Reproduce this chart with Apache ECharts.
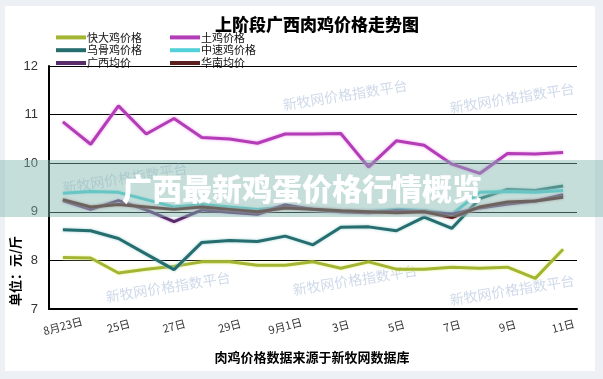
<!DOCTYPE html>
<html><head><meta charset="utf-8">
<script src="https://cdn.jsdelivr.net/npm/echarts@6/dist/echarts.min.js"></script>
<style>html,body{margin:0;padding:0;background:#edf1f6;}#c{width:603px;height:379px;}</style>
</head><body><div id="c"></div>
<script>
var categories = ['8月23日','24日','25日','26日','27日','28日','29日','30日','9月1日','2日','3日','4日','5日','6日','7日','8日','9日','10日','11日'];
var kuaida   = [8.06, 8.05, 7.74, 7.82, 7.88, 7.97, 7.97, 7.90, 7.90, 7.97, 7.84, 7.97, 7.82, 7.82, 7.86, 7.84, 7.86, 7.63, 8.23];
var tuji     = [10.85, 10.39, 11.18, 10.60, 10.92, 10.53, 10.50, 10.41, 10.60, 10.60, 10.61, 9.92, 10.46, 10.37, 9.98, 9.79, 10.20, 10.19, 10.22];
var wugu     = [8.63, 8.61, 8.45, 8.13, 7.81, 8.37, 8.41, 8.39, 8.50, 8.32, 8.68, 8.69, 8.61, 8.89, 8.66, 9.27, 9.46, 9.44, 9.53];
var zhongsu  = [9.38, 9.42, 9.40, 9.25, 9.10, 9.15, 9.10, 9.05, 9.10, 9.05, 9.00, 9.00, 9.05, 9.02, 8.95, 9.40, 9.42, 9.40, 9.44];
var gxAvg    = [9.23, 9.05, 9.23, 9.04, 8.80, 9.04, 8.99, 8.95, 9.14, 9.05, 9.00, 8.98, 9.02, 9.00, 8.95, 9.08, 9.16, 9.22, 9.35];
var hnAvg    = [9.25, 9.10, 9.15, 9.10, 9.05, 9.10, 9.05, 9.00, 9.08, 9.05, 9.02, 9.00, 8.98, 9.00, 8.88, 9.10, 9.20, 9.22, 9.30];
var seriesNames = ['快大鸡价格','土鸡价格','乌骨鸡价格','中速鸡价格','广西均价','华南均价'];
var seriesColors = ['#a3b533','#b23db6','#256d6e','#52d2d8','#5a2c6c','#5c1f20'];
var glowColors = ['#e8f590','#f0a0f0','#9fd0d0','#b8f0f0','#c0a0d0','#c09090'];
var yTicks = {min: 7, max: 12, interval: 1};

var chart = echarts.init(document.getElementById('c'), null, {renderer: 'canvas'});
var cjk = '"Noto Sans CJK SC", sans-serif';
var allData = [kuaida, tuji, wugu, zhongsu, gxAvg, hnAvg];
var series = allData.map(function (d, i) {
  return {
    name: seriesNames[i], type: 'line', data: d, symbol: 'none', z: 3,
    lineStyle: {width: 3, color: seriesColors[i], shadowColor: glowColors[i], shadowBlur: 3},
    itemStyle: {color: seriesColors[i]}
  };
});
function wm(x, y) {
  return {type: 'text', x: x, y: y, rotation: 0.16, z: 1,
    style: {text: '新牧网价格指数平台', fill: 'rgba(135,160,200,0.4)', font: '14px ' + cjk, align: 'center', verticalAlign: 'middle'}};
}
var legendCommon = {
  orient: 'vertical', icon: 'rect', itemWidth: 30, itemHeight: 4, itemGap: 0,
  textStyle: {fontSize: 11, color: '#111', fontFamily: cjk, lineHeight: 12.8, padding: [0, 0, 0, -4]},
  padding: 0, selectedMode: false
};
chart.setOption({
  backgroundColor: '#edf1f6',
  animation: false,
  title: {text: '上阶段广西肉鸡价格走势图', left: 312, top: 11, textAlign: 'center',
    textStyle: {fontSize: 17, fontWeight: 900, color: '#000', fontFamily: cjk}},
  legend: [
    Object.assign({left: 56, top: 31, data: ['快大鸡价格','乌骨鸡价格','广西均价']}, legendCommon),
    Object.assign({left: 170, top: 31, data: ['土鸡价格','中速鸡价格','华南均价']}, legendCommon)
  ],
  grid: {left: 49, right: 26, top: 66, bottom: 70},
  xAxis: {
    type: 'category', data: categories, boundaryGap: true,
    axisLine: {lineStyle: {color: '#000', width: 2}},
    axisTick: {inside: true, length: 6, interval: 0, lineStyle: {color: '#000', width: 2}},
    axisLabel: {interval: 1, rotate: 15, align: 'center', verticalAlign: 'middle', margin: 17,
      fontSize: 11, color: '#333', fontFamily: cjk},
    splitLine: {show: false}
  },
  yAxis: {
    type: 'value', min: yTicks.min, max: yTicks.max, interval: yTicks.interval,
    axisLine: {show: true, lineStyle: {color: '#000', width: 2}},
    axisTick: {show: false},
    axisLabel: {margin: 11, fontSize: 13, color: '#333', fontFamily: 'Liberation Sans'},
    splitLine: {show: true, lineStyle: {color: '#000', width: 1}}
  },
  graphic: [
    {type: 'rect', shape: {x: 5, y: 6, width: 590, height: 365}, style: {fill: '#ffffff'}, z: -10},
    wm(345, 95), wm(512, 98), wm(168, 287), wm(355, 280), wm(512, 290), wm(125, 178),
    {type: 'text', x: 15, y: 271, rotation: Math.PI / 2, z: 5,
      style: {text: '单位：元/斤', fill: '#000', font: 'bold 13px ' + cjk, align: 'center', verticalAlign: 'middle'}},
    {type: 'text', x: 312, y: 357, z: 5,
      style: {text: '肉鸡价格数据来源于新牧网数据库', fill: '#000', font: 'bold 13px ' + cjk, align: 'center', verticalAlign: 'middle'}},
    {type: 'rect', shape: {x: 0, y: 160, width: 603, height: 57}, style: {fill: 'rgba(128,182,174,0.45)'}, z: 100},
    {type: 'text', x: 302, y: 189, z: 101,
      style: {text: '广西最新鸡蛋价格行情概览', fill: '#ffffff', font: '900 30px ' + cjk, align: 'center', verticalAlign: 'middle'}}
  ],
  series: series
});
</script></body></html>
